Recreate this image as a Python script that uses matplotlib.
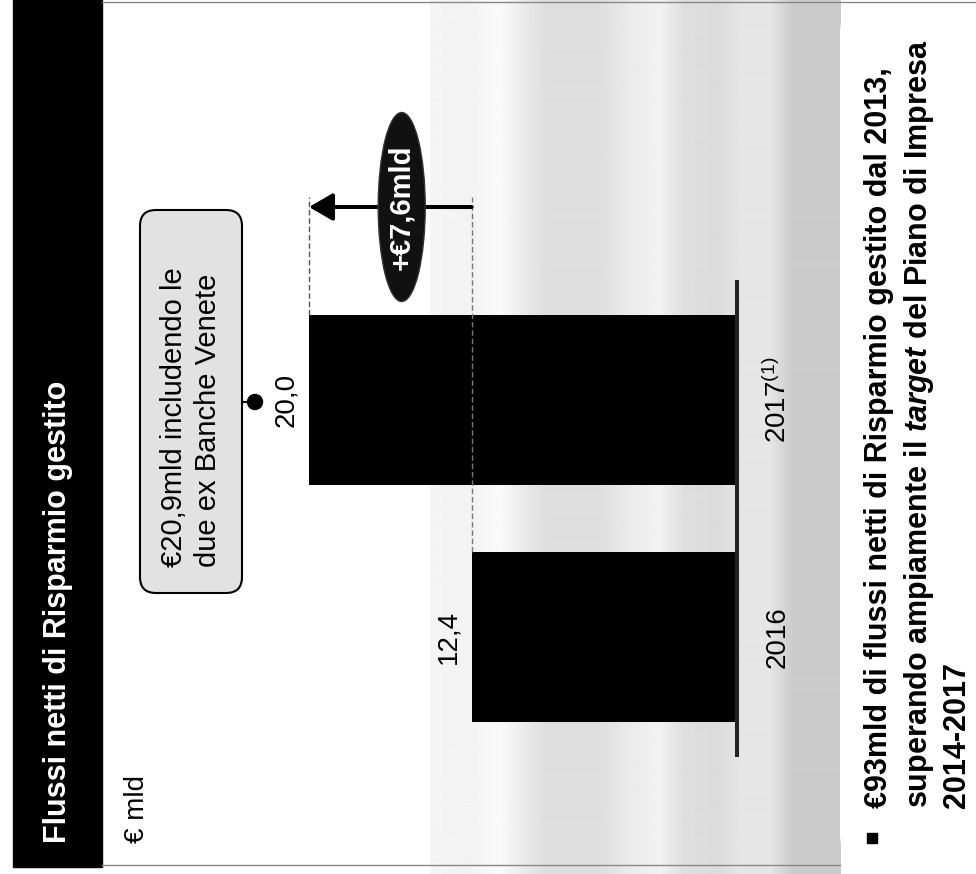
import matplotlib
matplotlib.use("Agg")
import numpy as np
import matplotlib.pyplot as plt
from matplotlib.patches import Rectangle, FancyBboxPatch, Ellipse, Circle

plt.rcParams["font.family"] = ["Liberation Sans", "DejaVu Sans"]
plt.rcParams["mathtext.fontset"] = "custom"
plt.rcParams["mathtext.rm"] = "Liberation Sans"
plt.rcParams["mathtext.it"] = "Liberation Sans:italic:bold"

# ---- data -------------------------------------------------------------
years = ["2016", "2017$^{(1)}$"]
flows = [12.4, 20.0]                 # € mld
flow_labels = ["12,4", "20,0"]
delta_label = "+€7,6mld"

title = "Flussi netti di Risparmio gestito"
unit_label = "€ mld"
callout_text = "€20,9mld includendo le\ndue ex Banche Venete"
bullet_text = ("€93mld di flussi netti di Risparmio gestito dal 2013,\n"
               "superando ampiamente il $\\mathit{target}$ del Piano di Impresa\n"
               "2014-2017")

# ---- page geometry (pixels, origin top-left) ---------------------------
W, H = 976, 874
ZERO_PX = 737        # x pixel of the zero line
PPU = 21.4           # pixels per € mld
CAT0_PX = 637        # y pixel of first category centre
CAT_STEP = 237       # pixels between categories
BAR_H = 170 / CAT_STEP

fig = plt.figure(figsize=(W / 100, H / 100), dpi=100)

page = fig.add_axes([0, 0, 1, 1])
page.axis("off")

# scanner haze: soft vertical grey bands behind the chart
band_x = [430, 470, 500, 520, 545, 600, 630, 660, 685, 720, 740, 770, 792, 838]
band_g = [0.96, 0.95, 0.98, 0.93, 0.87, 0.87, 0.92, 0.95, 0.87, 0.86, 0.90, 0.90, 0.80, 0.80]
xs = np.arange(430, 841)
prof = np.interp(xs, band_x, band_g)
page.imshow(np.tile(prof, (2, 1)), cmap="gray", vmin=0, vmax=1,
            extent=(430, 841, H, 0), aspect="auto", interpolation="bilinear", zorder=0)

# header band with title
page.add_patch(Rectangle((13, 0), 89, 867, color="black", zorder=1))
page.text(58, 843, title, rotation=90, color="white", fontsize=22, fontweight="bold",
          ha="center", va="bottom", zorder=3)
page.text(137, 843, unit_label, rotation=90, fontsize=20, ha="center", va="bottom", zorder=3)

# thin page frame lines
page.plot([102, 976], [1.5, 1.5], color="#888888", lw=1, zorder=1)
page.plot([102, 840], [865, 865], color="#888888", lw=1, zorder=1)

# callout box
page.add_patch(FancyBboxPatch((140, 210), 102, 383,
                              boxstyle="round,pad=0,rounding_size=16",
                              fc="#e2e2e2", ec="black", lw=1.5, zorder=2))
page.text(191, 567, callout_text, rotation=90, fontsize=21, ha="center", va="bottom",
          multialignment="left", linespacing=1.27, zorder=3)
page.plot([242, 255], [402, 402], color="black", lw=1.5, zorder=2)
page.add_patch(Circle((255, 402), 7.5, color="black", zorder=3))

# commentary box
page.add_patch(FancyBboxPatch((840, 10), 200, 847,
                              boxstyle="round,pad=0,rounding_size=22",
                              fc="white", ec="none", zorder=1))
page.add_patch(Rectangle((867, 833), 10, 10, color="black", zorder=3))
page.text(864, 808, bullet_text, rotation=90, fontsize=22, fontweight="bold",
          ha="left", va="bottom", multialignment="left", linespacing=1.3, zorder=3)

page.set_xlim(0, W)
page.set_ylim(H, 0)

# ---- bar chart ----------------------------------------------------------
chart = fig.add_axes([0, 0, 1, 1])
chart.patch.set_alpha(0)
chart.axis("off")
chart.set_xlim(ZERO_PX / PPU, (ZERO_PX - W) / PPU)      # values grow to the left
chart.set_ylim((CAT0_PX - H) / CAT_STEP, CAT0_PX / CAT_STEP)

pos = np.arange(len(flows))
chart.barh(pos, flows, height=BAR_H, color="black", zorder=2)

# zero line
chart.plot([0, 0], [pos[0] - 0.506, pos[-1] + 0.506], color="#222222", lw=2.9,
           solid_capstyle="butt", zorder=3)

for p, v, lab, yr in zip(pos, flows, flow_labels, years):
    chart.annotate(lab, xy=(v, p), xytext=(-23, 0), textcoords="offset pixels",
                   rotation=90, ha="center", va="center", fontsize=20, zorder=4)
    chart.annotate(yr, xy=(0, p), xytext=(41, 0), textcoords="offset pixels",
                   rotation=90, ha="center", va="center", fontsize=20, zorder=4)

# growth arrow between the two years
y_top = (CAT0_PX - 197) / CAT_STEP
y_arrow = (CAT0_PX - 207) / CAT_STEP
chart.plot([flows[1], flows[1]], [pos[1] + BAR_H / 2, y_top], color="#555555",
           lw=1, ls=(0, (4, 2)), zorder=3)
chart.plot([flows[0], flows[0]], [pos[0] + BAR_H / 2, y_top], color="#777777",
           lw=1, ls=(0, (4, 2)), zorder=3)
chart.annotate("", xy=(flows[1], y_arrow), xytext=(flows[0], y_arrow),
               arrowprops=dict(arrowstyle="-|>,head_length=1.0,head_width=0.58",
                               mutation_scale=14.4, lw=2.9, color="black",
                               shrinkA=0, shrinkB=0), zorder=4)
ell_x = flows[0] + 0.43 * (flows[1] - flows[0])
chart.add_patch(Ellipse((ell_x, y_arrow), 47 / PPU, 189 / CAT_STEP,
                        fc="#111111", ec="#333333", lw=1, zorder=5))
chart.text(ell_x, y_arrow, delta_label, rotation=90, color="white", fontsize=21,
           fontweight="bold", ha="center", va="center", zorder=6)

fig.savefig("out.png", dpi=100)
